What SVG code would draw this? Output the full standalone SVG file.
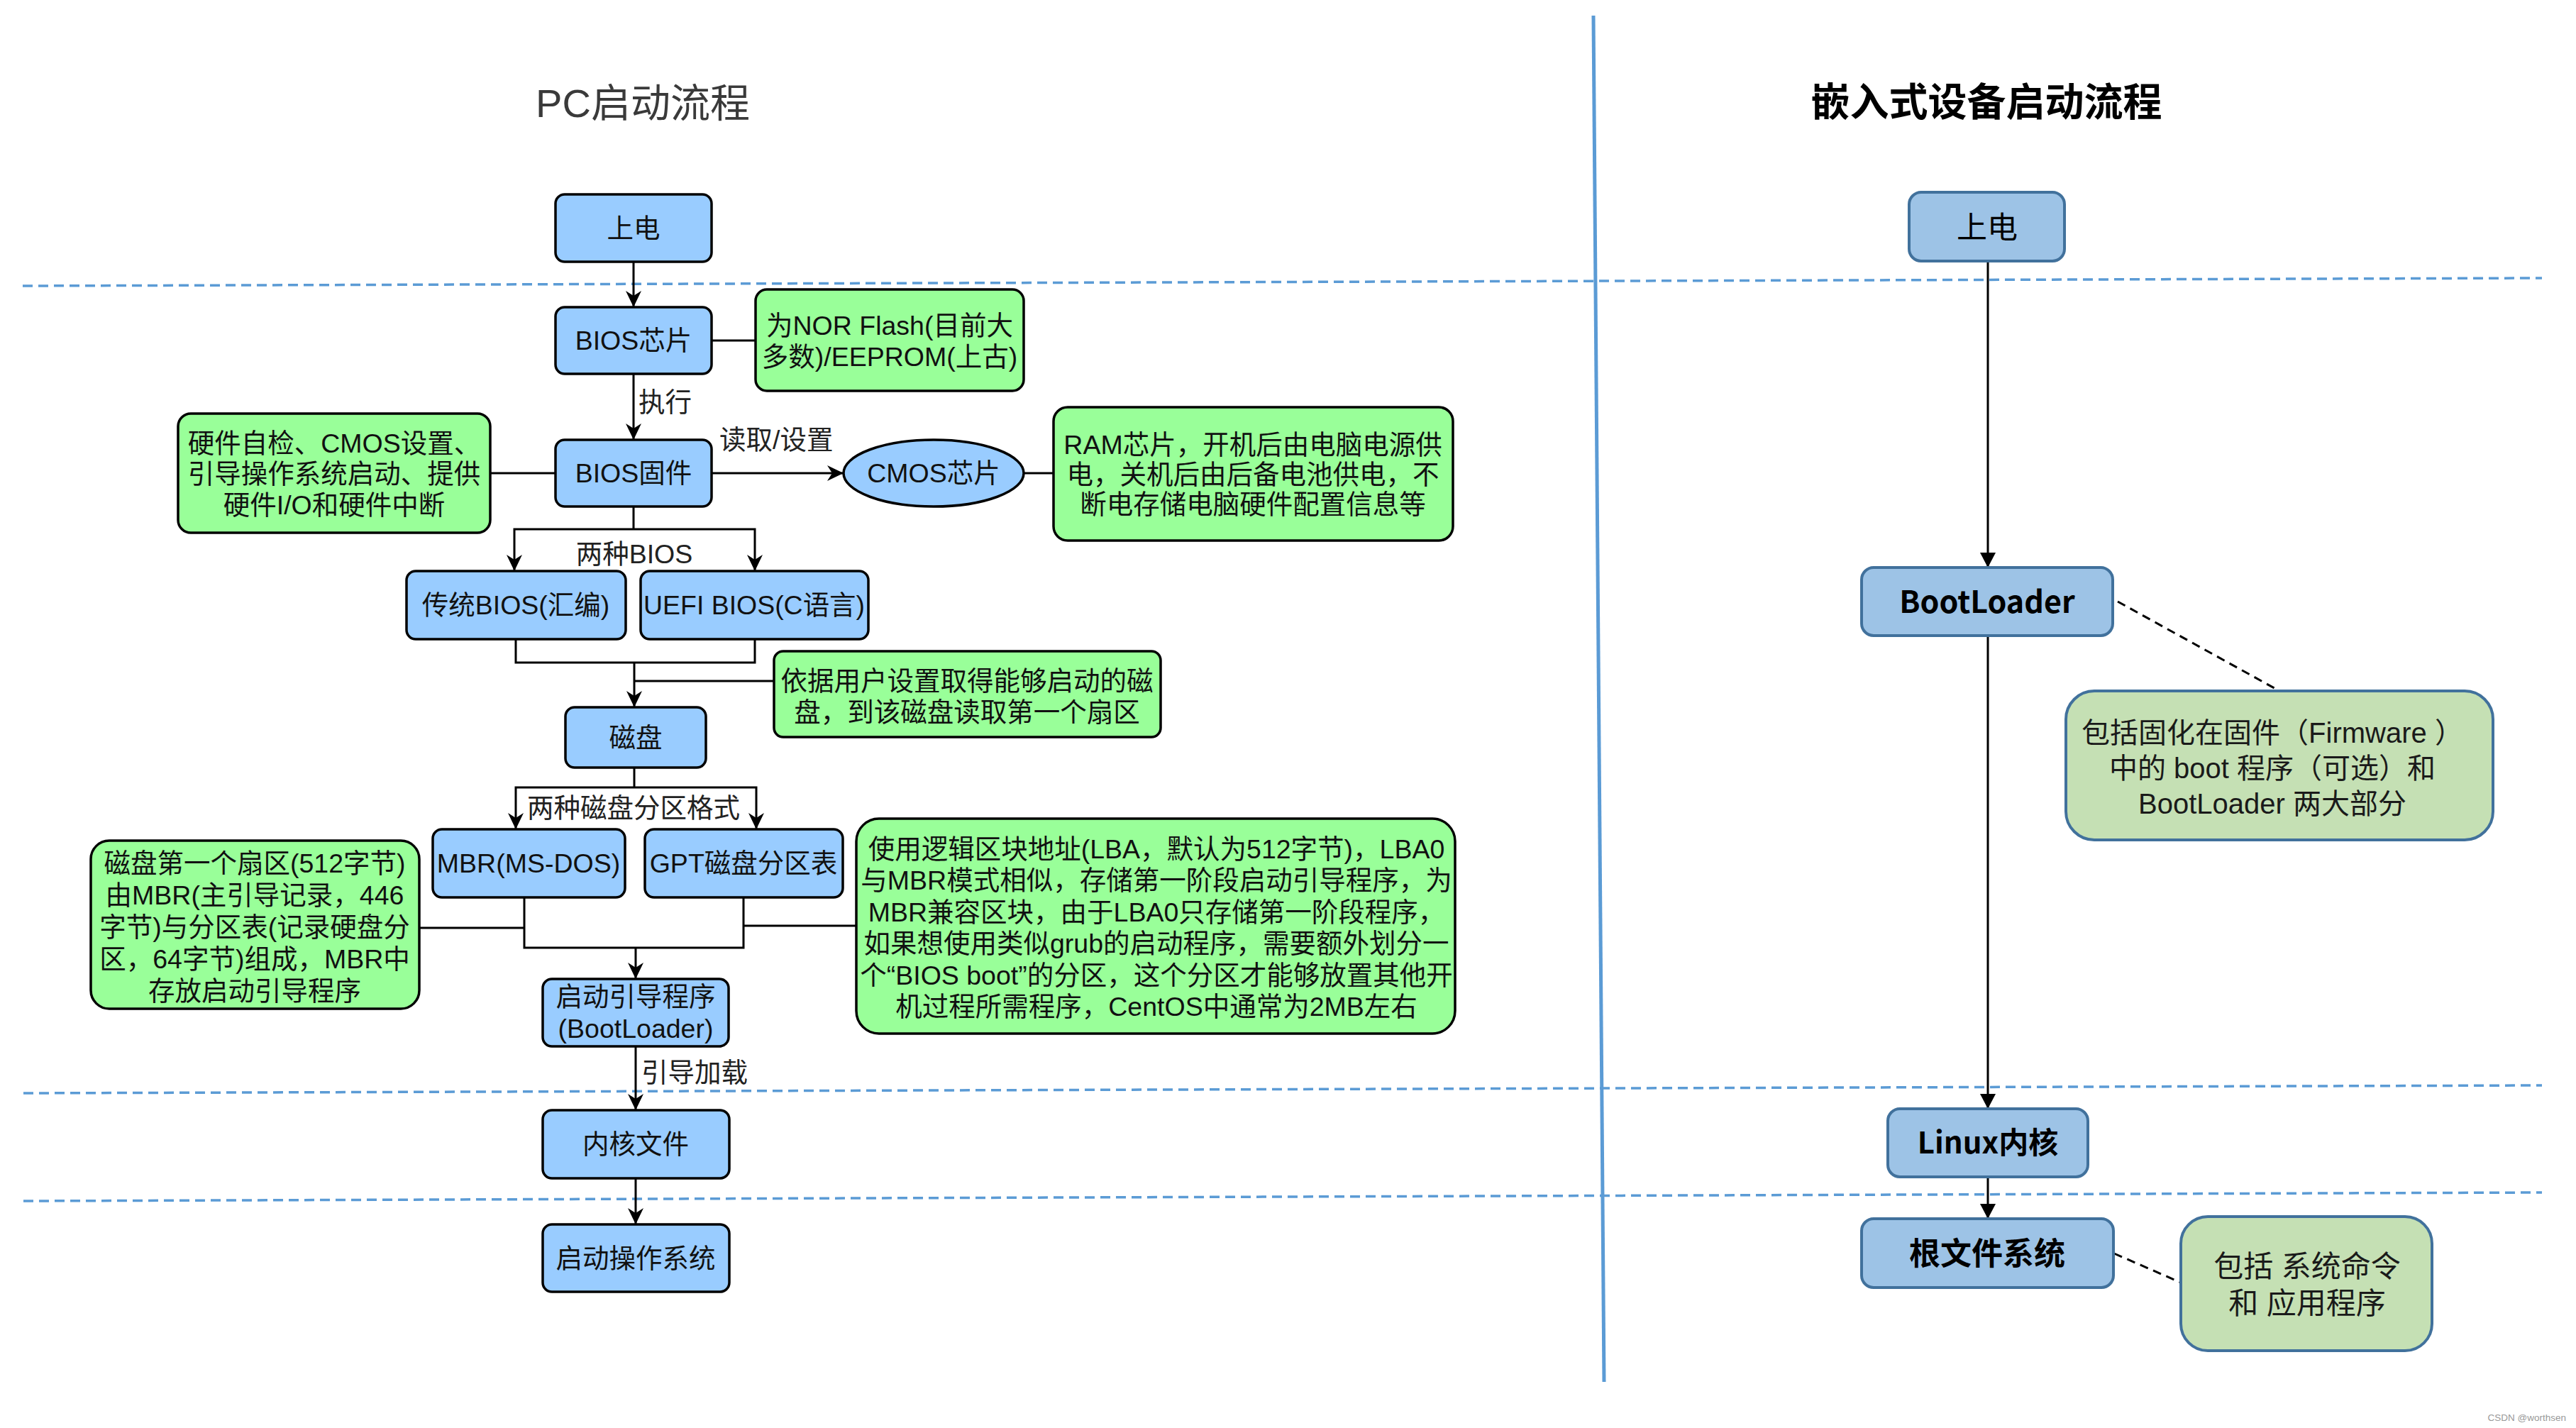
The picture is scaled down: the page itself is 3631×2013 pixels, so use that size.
<svg xmlns="http://www.w3.org/2000/svg" width="3631" height="2013" viewBox="0 0 3631 2013">
  <style>
    .bg { fill: #ffffff; }
    .sep { fill: none; stroke: #5B9BD5; stroke-width: 3.5; stroke-dasharray: 14 8; }
    .divider { fill: none; stroke: #5B9BD5; stroke-width: 5; }
    .pc-box { fill: #99CCFF; stroke: #000000; stroke-width: 3.5; }
    .pc-note { fill: #99FF99; stroke: #000000; stroke-width: 3.5; }
    .em-box { fill: #9DC3E6; stroke: #41719C; stroke-width: 4; }
    .em-note { fill: #C5E0B4; stroke: #41719C; stroke-width: 4; }
    .wire { fill: none; stroke: #000000; stroke-width: 3; }
    .flow { fill: none; stroke: #000000; stroke-width: 3; marker-end: url(#arrPC); }
    .flow-em { fill: none; stroke: #000000; stroke-width: 3; marker-end: url(#arrEm); }
    .assoc { fill: none; stroke: #000000; stroke-width: 3; stroke-dasharray: 12 8; }
    .t { font-family: "Liberation Sans", "Noto Sans CJK SC", sans-serif; font-size: 37.5px; fill: #111111; text-anchor: middle; }
    .lbl { font-family: "Liberation Sans", "Noto Sans CJK SC", sans-serif; font-size: 37.5px; fill: #222222; }
    .et { font-family: "Noto Sans CJK SC", sans-serif; fill: #000000; text-anchor: middle; }
    .en { font-family: "Liberation Sans", "Noto Sans CJK SC", sans-serif; font-size: 40px; fill: #1a1a1a; text-anchor: middle; }
  </style>
  <defs>
    <marker id="arrPC" markerUnits="userSpaceOnUse" markerWidth="24" markerHeight="24" viewBox="0 0 24 24" refX="23" refY="12" orient="auto">
      <path d="M0,1 L23,12 L0,23 L7,12 Z" fill="#000000"/>
    </marker>
    <marker id="arrEm" markerUnits="userSpaceOnUse" markerWidth="22" markerHeight="22" viewBox="0 0 22 22" refX="21" refY="11" orient="auto">
      <path d="M0,0 L21,11 L0,22 Z" fill="#000000"/>
    </marker>
  </defs>

  <rect class="bg" x="0" y="0" width="3631" height="2013"/>

  <!-- stage separators and column divider -->
  <g id="separators">
    <line class="sep" x1="32" y1="403" x2="3583" y2="392"/>
    <line class="sep" x1="33" y1="1541" x2="3583" y2="1530"/>
    <line class="sep" x1="33" y1="1693" x2="3583" y2="1681"/>
    <line class="divider" x1="2246" y1="22" x2="2261" y2="1948"/>
  </g>

  <!-- titles -->
  <g id="titles">
    <text x="906" y="165" style="font-family: 'Liberation Sans', 'Noto Sans CJK SC', sans-serif; font-size: 56px; fill: #3a3a3a; text-anchor: middle;">PC启动流程</text>
    <text x="2800" y="163" style="font-family: 'Noto Sans CJK SC', sans-serif; font-size: 55px; font-weight: bold; fill: #000000; text-anchor: middle;">嵌入式设备启动流程</text>
  </g>

  <!-- connectors -->
  <g id="connectors">
    <!-- PC column -->
    <line class="flow" x1="893" y1="369" x2="893" y2="433"/>
    <line class="wire" x1="1003" y1="480" x2="1065" y2="480"/>
    <line class="flow" x1="893" y1="527" x2="893" y2="620"/>
    <line class="wire" x1="691" y1="667" x2="783" y2="667"/>
    <line class="flow" x1="1003" y1="667" x2="1189" y2="667"/>
    <line class="wire" x1="1443" y1="667" x2="1485" y2="667"/>
    <polyline class="wire" points="893,714 893,746"/>
    <polyline class="flow" points="893,746 725,746 725,805"/>
    <polyline class="flow" points="893,746 1064,746 1064,805"/>
    <polyline class="wire" points="727,901 727,934 1064,934 1064,901"/>
    <line class="flow" x1="894" y1="934" x2="894" y2="997"/>
    <line class="wire" x1="894" y1="960" x2="1091" y2="960"/>
    <polyline class="wire" points="894,1082 894,1110"/>
    <polyline class="flow" points="894,1110 727,1110 727,1169"/>
    <polyline class="flow" points="894,1110 1066,1110 1066,1169"/>
    <polyline class="wire" points="739,1265 739,1336 1048,1336 1048,1265"/>
    <line class="wire" x1="591" y1="1308" x2="739" y2="1308"/>
    <line class="wire" x1="1048" y1="1305" x2="1207" y2="1305"/>
    <line class="flow" x1="896" y1="1336" x2="896" y2="1380"/>
    <line class="flow" x1="896" y1="1475" x2="896" y2="1565"/>
    <line class="flow" x1="896" y1="1661" x2="896" y2="1726"/>
    <!-- connector labels -->
    <text class="lbl" x="900" y="580">执行</text>
    <text class="lbl" x="1014" y="633">读取/设置</text>
    <text class="lbl" x="894" y="794" text-anchor="middle">两种BIOS</text>
    <text class="lbl" x="893" y="1152" text-anchor="middle">两种磁盘分区格式</text>
    <text class="lbl" x="904" y="1525">引导加载</text>

    <!-- embedded column -->
    <line class="flow-em" x1="2802" y1="368" x2="2802" y2="800"/>
    <line class="flow-em" x1="2802" y1="896" x2="2802" y2="1563"/>
    <line class="flow-em" x1="2802" y1="1659" x2="2802" y2="1718"/>
    <line class="assoc" x1="2985" y1="848" x2="3213" y2="974"/>
    <line class="assoc" x1="2980" y1="1767" x2="3074" y2="1808"/>
  </g>

  <!-- PC boot nodes -->
  <g id="pc-power">
    <rect class="pc-box" x="783" y="274" width="220" height="95" rx="13"/>
    <text class="t" x="893" y="335">上电</text>
  </g>
  <g id="pc-bios-chip">
    <rect class="pc-box" x="783" y="433" width="220" height="94" rx="13"/>
    <text class="t" x="893" y="493">BIOS芯片</text>
  </g>
  <g id="note-bios-chip">
    <rect class="pc-note" x="1065" y="408" width="378" height="143" rx="16"/>
    <text class="t" x="1254" y="472">为NOR Flash(目前大</text>
    <text class="t" x="1254" y="516">多数)/EEPROM(上古)</text>
  </g>
  <g id="pc-bios-fw">
    <rect class="pc-box" x="783" y="620" width="220" height="94" rx="13"/>
    <text class="t" x="893" y="680">BIOS固件</text>
  </g>
  <g id="note-bios-fw">
    <rect class="pc-note" x="251" y="583" width="440" height="168" rx="18"/>
    <text class="t" x="471" y="638">硬件自检、CMOS设置、</text>
    <text class="t" x="471" y="681">引导操作系统启动、提供</text>
    <text class="t" x="471" y="725">硬件I/O和硬件中断</text>
  </g>
  <g id="pc-cmos">
    <ellipse class="pc-box" cx="1316" cy="667" rx="127" ry="47"/>
    <text class="t" x="1316" y="680">CMOS芯片</text>
  </g>
  <g id="note-cmos">
    <rect class="pc-note" x="1485" y="574" width="563" height="188" rx="20"/>
    <text class="t" x="1766" y="640">RAM芯片，开机后由电脑电源供</text>
    <text class="t" x="1766" y="682">电，关机后由后备电池供电，不</text>
    <text class="t" x="1766" y="724">断电存储电脑硬件配置信息等</text>
  </g>
  <g id="pc-legacy-bios">
    <rect class="pc-box" x="573" y="805" width="309" height="96" rx="13"/>
    <text class="t" x="727" y="866">传统BIOS(汇编)</text>
  </g>
  <g id="pc-uefi-bios">
    <rect class="pc-box" x="903" y="805" width="321" height="96" rx="13"/>
    <text class="t" x="1063" y="866" textLength="312" lengthAdjust="spacingAndGlyphs">UEFI BIOS(C语言)</text>
  </g>
  <g id="note-disk">
    <rect class="pc-note" x="1091" y="918" width="545" height="121" rx="13"/>
    <text class="t" x="1363" y="973">依据用户设置取得能够启动的磁</text>
    <text class="t" x="1363" y="1017">盘，到该磁盘读取第一个扇区</text>
  </g>
  <g id="pc-disk">
    <rect class="pc-box" x="797" y="997" width="198" height="85" rx="13"/>
    <text class="t" x="896" y="1053">磁盘</text>
  </g>
  <g id="pc-mbr">
    <rect class="pc-box" x="610" y="1169" width="271" height="96" rx="13"/>
    <text class="t" x="745" y="1230">MBR(MS-DOS)</text>
  </g>
  <g id="pc-gpt">
    <rect class="pc-box" x="909" y="1169" width="279" height="96" rx="13"/>
    <text class="t" x="1048" y="1230">GPT磁盘分区表</text>
  </g>
  <g id="note-mbr">
    <rect class="pc-note" x="128" y="1185" width="463" height="237" rx="26"/>
    <text class="t" x="359" y="1230">磁盘第一个扇区(512字节)</text>
    <text class="t" x="359" y="1275">由MBR(主引导记录，446</text>
    <text class="t" x="359" y="1320">字节)与分区表(记录硬盘分</text>
    <text class="t" x="359" y="1365">区，64字节)组成，MBR中</text>
    <text class="t" x="359" y="1410">存放启动引导程序</text>
  </g>
  <g id="note-gpt">
    <rect class="pc-note" x="1207" y="1154" width="844" height="303" rx="32"/>
    <text class="t" x="1630" y="1210">使用逻辑区块地址(LBA，默认为512字节)，LBA0</text>
    <text class="t" x="1630" y="1254">与MBR模式相似，存储第一阶段启动引导程序，为</text>
    <text class="t" x="1630" y="1299">MBR兼容区块，由于LBA0只存储第一阶段程序，</text>
    <text class="t" x="1630" y="1343">如果想使用类似grub的启动程序，需要额外划分一</text>
    <text class="t" x="1630" y="1388">个“BIOS boot”的分区，这个分区才能够放置其他开</text>
    <text class="t" x="1630" y="1432">机过程所需程序，CentOS中通常为2MB左右</text>
  </g>
  <g id="pc-bootloader">
    <rect class="pc-box" x="765" y="1380" width="262" height="95" rx="13"/>
    <text class="t" x="896" y="1418">启动引导程序</text>
    <text class="t" x="896" y="1463">(BootLoader)</text>
  </g>
  <g id="pc-kernel">
    <rect class="pc-box" x="765" y="1565" width="263" height="96" rx="13"/>
    <text class="t" x="896" y="1626">内核文件</text>
  </g>
  <g id="pc-os">
    <rect class="pc-box" x="765" y="1726" width="263" height="95" rx="13"/>
    <text class="t" x="896" y="1787">启动操作系统</text>
  </g>

  <!-- embedded boot nodes -->
  <g id="em-power">
    <rect class="em-box" x="2691" y="271" width="219" height="97" rx="17"/>
    <text class="et" x="2801" y="336" style="font-size: 43px;">上电</text>
  </g>
  <g id="em-bootloader">
    <rect class="em-box" x="2624" y="800" width="354" height="96" rx="17"/>
    <text class="et" x="2801" y="864" style="font-size: 43px; font-weight: bold;">BootLoader</text>
  </g>
  <g id="note-em-bootloader">
    <rect class="em-note" x="2912" y="974" width="602" height="210" rx="40"/>
    <text class="en" x="3203" y="1047">包括固化在固件（Firmware ）</text>
    <text class="en" x="3203" y="1097">中的 boot 程序（可选）和</text>
    <text class="en" x="3203" y="1147">BootLoader 两大部分</text>
  </g>
  <g id="em-kernel">
    <rect class="em-box" x="2661" y="1563" width="282" height="96" rx="17"/>
    <text class="et" x="2802" y="1626" style="font-size: 42px; font-weight: bold;">Linux内核</text>
  </g>
  <g id="em-rootfs">
    <rect class="em-box" x="2624" y="1718" width="355" height="97" rx="17"/>
    <text class="et" x="2801" y="1783" style="font-size: 44px; font-weight: bold;">根文件系统</text>
  </g>
  <g id="note-em-rootfs">
    <rect class="em-note" x="3074" y="1715" width="354" height="189" rx="38"/>
    <text class="en" x="3252" y="1800" style="font-size: 42px;">包括 系统命令</text>
    <text class="en" x="3252" y="1852" style="font-size: 42px;">和 应用程序</text>
  </g>

  <text x="3617" y="2003" style="font-family: 'Liberation Sans', sans-serif; font-size: 13.5px; fill: #999999; text-anchor: end;">CSDN @worthsen</text>
</svg>
